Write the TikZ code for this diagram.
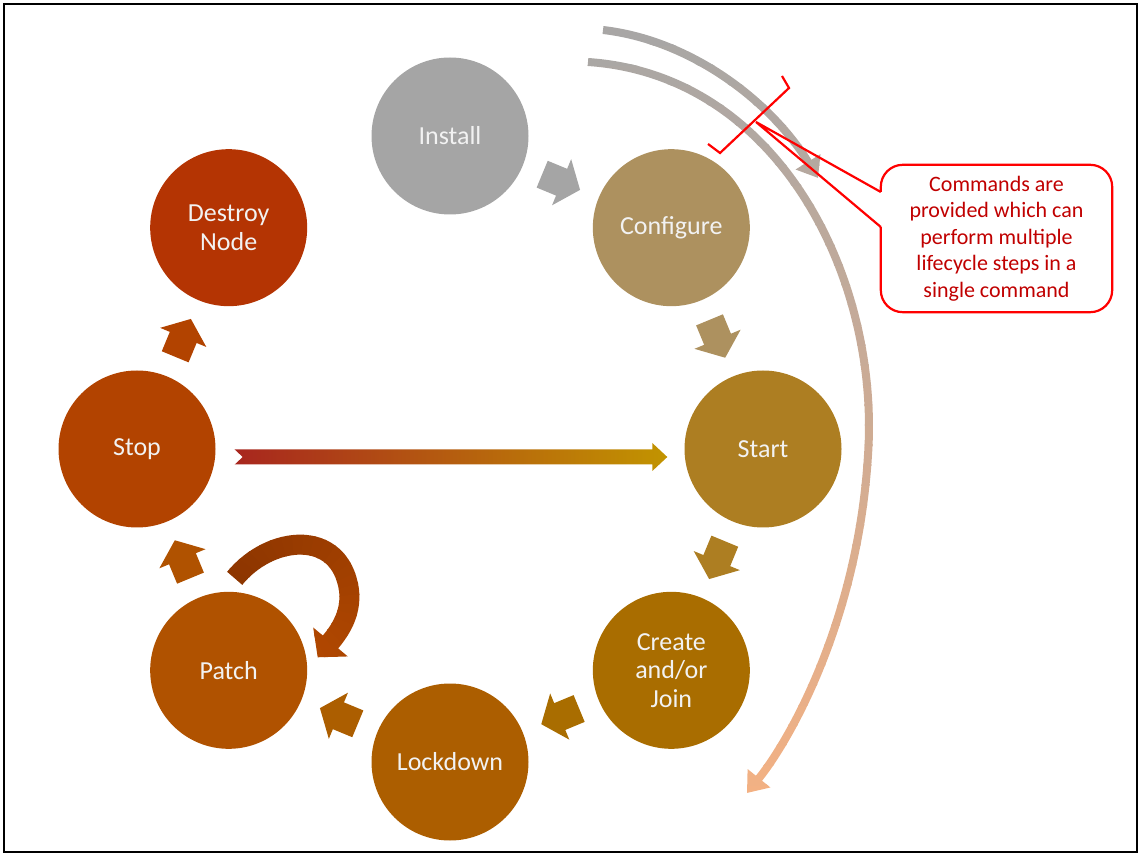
\documentclass[tikz,border=0pt]{standalone}
\usepackage{fontspec}
\setmainfont{Carlito}
\usetikzlibrary{calc,arrows.meta}
\definecolor{installc}{HTML}{A5A5A5}
\definecolor{configc}{HTML}{AD915F}
\definecolor{startc}{HTML}{AD7E22}
\definecolor{createc}{HTML}{A96D00}
\definecolor{lockc}{HTML}{AC5E00}
\definecolor{patchc}{HTML}{B05200}
\definecolor{stopc}{HTML}{B24300}
\definecolor{destroyc}{HTML}{B43403}
\definecolor{labelc}{HTML}{F2F2F2}
\definecolor{arcgray}{HTML}{A6A6A6}
\definecolor{arcpeach}{HTML}{F4B183}
\definecolor{hotred}{HTML}{A8261E}
\definecolor{gold}{HTML}{C29400}
\definecolor{loopdark}{HTML}{8A3400}
\definecolor{loopend}{HTML}{B24800}
\definecolor{notered}{HTML}{C00000}
\tikzset{
  stage/.style={circle,minimum size=157pt,inner sep=0pt,align=center,text=labelc,font=\fontsize{26}{28.5}\selectfont},
  blockarr/.pic={\fill (-20,-14.5) -- (1,-14.5) -- (1,-25) -- (21,0) -- (1,25) -- (1,14.5) -- (-20,14.5) -- cycle;},
  ringline/.style={line width=8pt,-{Triangle[length=19pt,width=28pt]}},
  loopline/.style={line width=20pt,-{Triangle[length=20pt,width=44pt]}},
  notebox/.style={align=center,text=notered,font=\fontsize{22}{26.6}\selectfont,minimum width=231pt,minimum height=147pt,inner sep=0pt},
  noteline/.style={red,line width=2.2pt},
}
\begin{document}
\begin{tikzpicture}[x=1pt,y=1pt]
  \useasboundingbox (0,0) rectangle (1141,855);
  \draw[line width=2.5pt] (4,3) rectangle (1137,851);
  \coordinate (ring) at (450,406);
  % lifecycle stages
  \node[stage,fill=installc] (install) at ($(ring)+(90:313)$) {Install};
  \node[stage,fill=configc] (configure) at ($(ring)+(45:313)$) {Configure};
  \node[stage,fill=startc] (start) at ($(ring)+(0:313)$) {Start};
  \node[stage,fill=createc] (create) at ($(ring)+(-45:313)$) {Create\\and/or\\Join};
  \node[stage,fill=lockc] (lockdown) at ($(ring)+(-90:313)$) {Lockdown};
  \node[stage,fill=patchc] (patch) at ($(ring)+(-135:313)$) {Patch};
  \node[stage,fill=stopc] (stop) at ($(ring)+(180:313)$) {Stop};
  \node[stage,fill=destroyc] (destroy) at ($(ring)+(135:313)$) {Destroy\\Node};
  % block arrows round the ring
  \pic[color=installc,rotate=-22.5] at ($(install)!0.5!(configure)$) {blockarr};
  \pic[color=configc,rotate=-67.5] at ($(configure)!0.5!(start)$) {blockarr};
  \pic[color=startc,rotate=-112.5] at ($(start)!0.5!(create)$) {blockarr};
  \pic[color=createc,rotate=-157.5] at ($(create)!0.5!(lockdown)$) {blockarr};
  \pic[color=lockc,rotate=157.5] at ($(lockdown)!0.5!(patch)$) {blockarr};
  \pic[color=patchc,rotate=112.5] at ($(patch)!0.5!(stop)$) {blockarr};
  \pic[color=stopc,rotate=67.5] at ($(stop)!0.5!(destroy)$) {blockarr};
  % stop -> start
  \coordinate (hs) at ($(stop.east)+(19,-8)$);
  \coordinate (he) at ($(start.west)+(-17,-8)$);
  \shade[left color=hotred,right color=gold]
    ($(hs)+(0,7.5)$) -- ($(he)+(-15,7.5)$) -- ($(he)+(-15,14)$) -- (he)
    -- ($(he)+(-15,-14)$) -- ($(he)+(-15,-7.5)$) -- ($(hs)+(0,-7.5)$) -- ($(hs)+(8,0)$) -- cycle;
  % patch loop
  \coordinate (lc) at (298,255);
  \coordinate (loopA) at ($(patch)+(6,92)$);
  \coordinate (loopB) at ($(patch)+(89,13)$);
  \foreach \a in {180,170,...,-80} {
    \pgfmathsetmacro\mix{(180-\a)/2.6}
    \begin{scope}
      \clip (lc) -- ($(lc)+(\a+5.5:110)$) -- ($(lc)+(\a-5.5:110)$) -- cycle;
      \draw[loopline,color=loopend!\mix!loopdark] (loopA) .. controls (270,320) and (340,327) .. (349,265)
        .. controls (352,240) and (338,222) .. (loopB);
    \end{scope}
  }
  % long arcs at the right
  \coordinate (arcA) at (588,793);
  \coordinate (arcB) at (747,62);
  \coordinate (arcC) at (603,825);
  \coordinate (arcD) at (818,677);
  \foreach \k in {0,...,39} {
    \pgfmathsetmacro\ylo{50+20*\k}
    \pgfmathsetmacro\mix{100-(\ylo-40)/7.9}
    \begin{scope}
      \clip (575,\ylo-0.5) rectangle (905,\ylo+20.5);
      \draw[ringline,color=arcpeach!\mix!arcgray] (arcA) .. controls (780,780) and (880,575) .. (868,400)
        .. controls (858,235) and (790,115) .. (arcB);
      \draw[ringline,color=arcpeach!\mix!arcgray] (arcC) .. controls (690,815) and (770,755) .. (arcD);
    \end{scope}
  }
  % callout
  \node[notebox] (note) at (996.5,616.5) {Commands are\\provided which can\\perform multiple\\lifecycle steps in a\\single command};
  \coordinate (tip) at (756,733);
  \coordinate (pa) at ($(note.west)+(0,46.5)$);
  \coordinate (pb) at ($(note.west)+(0,11.5)$);
  \draw[noteline] (708,711) -- (720,702) -- (789,767) -- (782,779);
  \draw[noteline] (pa) -- (tip) -- (pb);
  \draw[noteline,rounded corners=22pt] (pb) -- (note.south west) -- (note.south east)
    -- (note.north east) -- (note.north west) -- (pa);
\end{tikzpicture}
\end{document}
